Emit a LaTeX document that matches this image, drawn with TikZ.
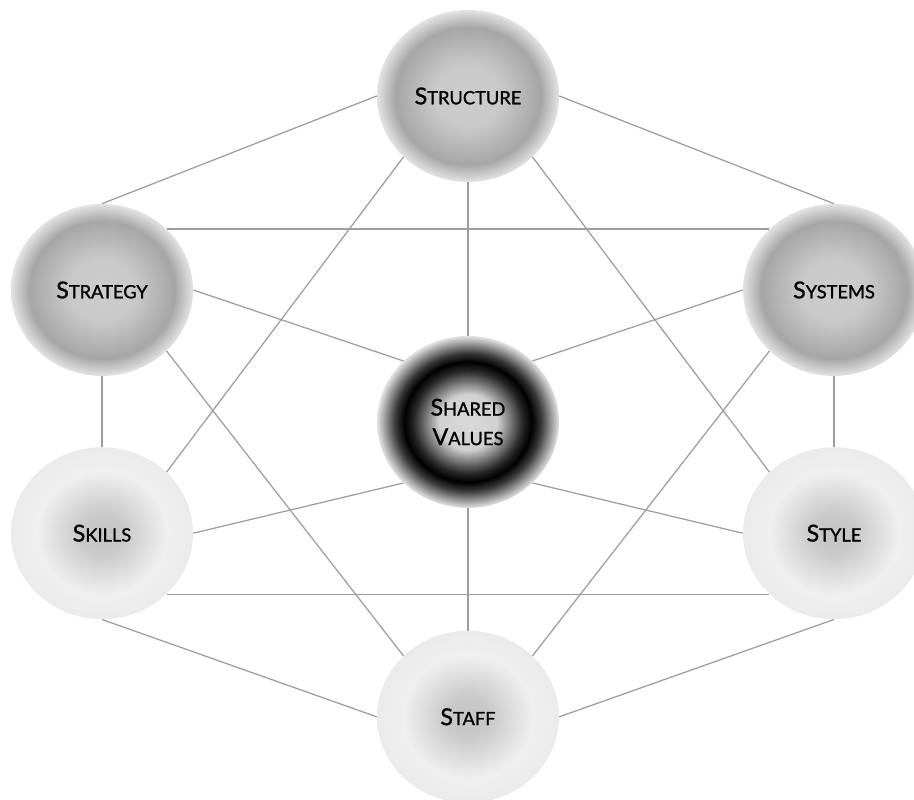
\documentclass[tikz,border=0pt]{standalone}
\usepackage{fontspec}
\setmainfont{Lato}
\newfontfamily\labelfont{Lato}[FakeBold=1.2]
\usepackage{tikz}
\usetikzlibrary{positioning, shapes.geometric, backgrounds}

\pgfdeclareradialshading{greyball}{\pgfpoint{0bp}{0bp}}{%
  color(0bp)=(black!20); color(9bp)=(black!21); color(20bp)=(black!35);
  color(25bp)=(black!11); color(50bp)=(black!11)}
\pgfdeclareradialshading{darkball}{\pgfpoint{0bp}{0bp}}{%
  color(0bp)=(black!15); color(8bp)=(black!18); color(15bp)=(black!85);
  color(17.5bp)=(black!100); color(20bp)=(black!78); color(25bp)=(black!11);
  color(50bp)=(black!11)}
\pgfdeclareradialshading{paleball}{\pgfpoint{0bp}{0bp}}{%
  color(0bp)=(black!23); color(6bp)=(black!21); color(18bp)=(black!6);
  color(25bp)=(black!8); color(50bp)=(black!8)}

\newcommand\capword[2]{{\fontsize{16.5}{21}\selectfont #1}{\fontsize{13}{21}\selectfont #2}}

\begin{document}
\begin{tikzpicture}[
  ball/.style ={ellipse, inner sep=0pt,
                minimum width=4.55cm, minimum height=4.3cm,
                align=center, text=black,
                font=\labelfont\fontsize{13}{21}\selectfont},
  gball/.style={ball, shading=greyball},
  dball/.style={ball, shading=darkball},
  pball/.style={ball, shading=paleball},
  link/.style ={line width=0.9pt, color=black!38},
]
\useasboundingbox (0,0) rectangle (22.85,20);

%% ═══════════════ ELEMENTOS ═══════════════
\node[gball] (str) at (11.70, 17.60) {\capword{S}{TRUCTURE}};
\node[gball] (stg) at ( 2.55, 12.75) {\capword{S}{TRATEGY}};
\node[gball] (sys) at (20.85, 12.75) {\capword{S}{YSTEMS}};
\node[dball] (sv)  at (11.70,  9.45) {\capword{S}{HARED}\\\capword{V}{ALUES}};
\node[pball] (skl) at ( 2.55,  6.67) {\capword{S}{KILLS}};
\node[pball] (sty) at (20.85,  6.67) {\capword{S}{TYLE}};
\node[pball] (stf) at (11.70,  2.08) {\capword{S}{TAFF}};

%% ═══════════════ CONEXIONES ═══════════════
% desde Structure
\draw[link] (str.west)       -- (stg.north);
\draw[link] (str.east)       -- (sys.north);
\draw[link] (str.south)      -- (sv.north);
\draw[link] (str.south west) -- (skl.north east);
\draw[link] (str.south east) -- (sty.north west);
% desde Strategy
\draw[link] (stg.north east) -- (sys.north west);
\draw[link] (stg.east)       -- (sv.north west);
\draw[link] (stg.south)      -- (skl.north);
\draw[link] (stg.south east) -- (stf.north west);
% desde Systems
\draw[link] (sys.west)       -- (sv.north east);
\draw[link] (sys.south)      -- (sty.north);
\draw[link] (sys.south west) -- (stf.north east);
% desde Shared Values
\draw[link] (sv.south west)  -- (skl.east);
\draw[link] (sv.south east)  -- (sty.west);
\draw[link] (sv.south)       -- (stf.north);
% fila inferior
\draw[link] (skl.south east) -- (sty.south west);
\draw[link] (skl.south)      -- (stf.west);
\draw[link] (sty.south)      -- (stf.east);

\end{tikzpicture}
\end{document}
